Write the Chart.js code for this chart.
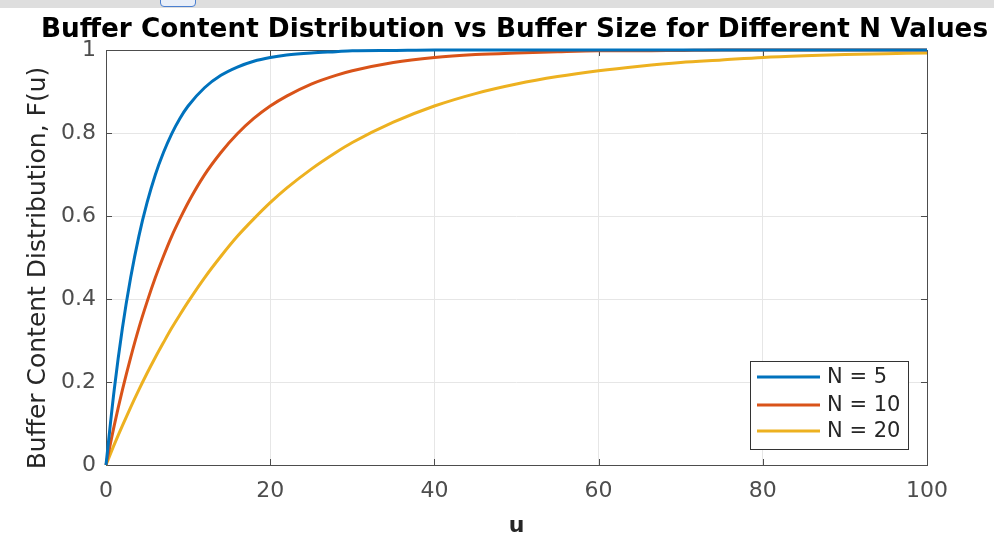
<!DOCTYPE html>
<html>
<head>
<meta charset="utf-8">
<script src="https://cdn.jsdelivr.net/npm/chart.js@4.4.1/dist/chart.umd.min.js"></script>
<style>
  body { margin: 0; background: #fff; }
  #wrap { position: relative; width: 994px; height: 534px; }
  #topbar { position: absolute; left: 0; top: 0; width: 994px; height: 8px; background: #dedede; }
  #tab { position: absolute; left: 160px; top: -6px; width: 34px; height: 11px; border: 1.5px solid #4a7fd0; border-radius: 4px; background: #e8eef8; }
</style>
</head>
<body>
<div id="wrap">
  <canvas id="chart" width="994" height="534"></canvas>
  <div id="topbar"><div id="tab"></div></div>
</div>
<script>
// values
const uValues = [0, 1, 2, 3, 4, 5, 6, 7, 8, 9, 10, 12, 14, 16, 18, 20, 22, 25, 28, 30, 35, 40, 45, 50, 55, 60, 65, 70, 75, 80, 85, 90, 95, 100];
const fN5  = [0, 0.181, 0.330, 0.451, 0.551, 0.632, 0.699, 0.753, 0.798, 0.835, 0.865, 0.909, 0.939, 0.959, 0.973, 0.982, 0.988, 0.993, 0.996, 0.998, 0.999, 1, 1, 1, 1, 1, 1, 1, 1, 1, 1, 1, 1, 1];
const fN10 = [0, 0.095, 0.181, 0.259, 0.330, 0.393, 0.451, 0.503, 0.551, 0.593, 0.632, 0.699, 0.753, 0.798, 0.835, 0.865, 0.889, 0.918, 0.939, 0.950, 0.970, 0.982, 0.989, 0.993, 0.996, 0.998, 0.998, 0.999, 1, 1, 1, 1, 1, 1];
const fN20 = [0, 0.049, 0.095, 0.139, 0.181, 0.221, 0.259, 0.295, 0.330, 0.362, 0.393, 0.451, 0.503, 0.551, 0.593, 0.632, 0.667, 0.713, 0.753, 0.777, 0.826, 0.865, 0.895, 0.918, 0.936, 0.950, 0.961, 0.970, 0.976, 0.982, 0.986, 0.989, 0.991, 0.993];
const seriesNames = ['N = 5', 'N = 10', 'N = 20'];
const seriesColors = ['#0072BD', '#D95319', '#EDB120'];
const xTicks = [0, 20, 40, 60, 80, 100];
const yTicks = [0, 0.2, 0.4, 0.6, 0.8, 1];
const chartTitle = 'Buffer Content Distribution vs Buffer Size for Different N Values';
const yLabel = 'Buffer Content Distribution, F(u)';

const FONT = 'DejaVu Sans';
const AXIS_COLOR = '#4d4d4d';
const TEXT_COLOR = '#4d4d4d';

const toPoints = (ys) => uValues.map((u, i) => ({ x: u, y: ys[i] }));

// matlab style box, inward ticks, title, y label, legend
const boxPlugin = {
  id: 'boxPlugin',
  beforeDatasetsDraw(chart) {
    const { ctx, chartArea: a, scales: { x, y } } = chart;
    ctx.save();
    ctx.strokeStyle = AXIS_COLOR;
    ctx.lineWidth = 1;
    ctx.strokeRect(a.left + 0.5, a.top + 0.5, a.right - a.left, a.bottom - a.top);
    ctx.beginPath();
    const tl = 6;
    xTicks.forEach((t) => {
      const px = Math.round(x.getPixelForValue(t)) + 0.5;
      ctx.moveTo(px, a.bottom); ctx.lineTo(px, a.bottom - tl);
      ctx.moveTo(px, a.top); ctx.lineTo(px, a.top + tl);
    });
    yTicks.forEach((t) => {
      const py = Math.round(y.getPixelForValue(t)) + 0.5;
      ctx.moveTo(a.left, py); ctx.lineTo(a.left + tl, py);
      ctx.moveTo(a.right, py); ctx.lineTo(a.right - tl, py);
    });
    ctx.stroke();
    ctx.restore();
  },
  afterDraw(chart) {
    const { ctx, chartArea: a } = chart;
    ctx.save();
    // title
    ctx.fillStyle = '#000';
    ctx.font = 'bold 26.3px ' + FONT;
    ctx.textAlign = 'center';
    ctx.textBaseline = 'alphabetic';
    ctx.fillText(chartTitle, (a.left + a.right) / 2 - 2, 37);
    // y label
    ctx.save();
    ctx.translate(38, 268);
    ctx.rotate(-Math.PI / 2);
    ctx.fillStyle = '#262626';
    ctx.font = '25px ' + FONT;
    ctx.textBaseline = 'middle';
    ctx.fillText(yLabel, 0, 0);
    ctx.restore();
    // legend
    ctx.textAlign = 'left';
    ctx.fillStyle = '#fff';
    ctx.strokeStyle = '#333';
    ctx.lineWidth = 1;
    ctx.fillRect(750, 361, 158, 88);
    ctx.strokeRect(750.5, 361.5, 158, 88);
    ctx.font = '21px ' + FONT;
    ctx.textBaseline = 'middle';
    const rows = [377, 405, 431];
    seriesNames.forEach((name, i) => {
      ctx.strokeStyle = seriesColors[i];
      ctx.lineWidth = 3;
      ctx.beginPath();
      ctx.moveTo(757, rows[i]);
      ctx.lineTo(820, rows[i]);
      ctx.stroke();
      ctx.fillStyle = '#262626';
      ctx.fillText(name, 827, rows[i] + 1);
    });
    ctx.restore();
  }
};

new Chart(document.getElementById('chart'), {
  type: 'line',
  data: {
    datasets: [fN5, fN10, fN20].map((ys, i) => ({
      label: seriesNames[i],
      data: toPoints(ys),
      borderColor: seriesColors[i],
      backgroundColor: seriesColors[i],
      borderWidth: 3,
      pointRadius: 0,
      cubicInterpolationMode: 'monotone',
      clip: 4,
    })),
  },
  options: {
    responsive: false,
    animation: false,
    layout: { padding: { left: 0, right: 67, top: 50, bottom: 0 } },
    plugins: {
      legend: { display: false },
      tooltip: { enabled: false },
      title: { display: false },
    },
    scales: {
      x: {
        type: 'linear',
        min: 0,
        max: 100,
        afterFit: (s) => { s.height = 69; },
        afterBuildTicks: (s) => { s.ticks = xTicks.map((v) => ({ value: v })); },
        grid: { color: '#e6e6e6', drawTicks: false },
        border: { display: false },
        ticks: { color: TEXT_COLOR, padding: 13, font: { family: FONT, size: 22 } },
        title: {
          display: true, text: 'u', color: '#262626',
          font: { family: FONT, size: 22, weight: 'bold' },
          padding: { top: 0, bottom: -5 },
        },
      },
      y: {
        type: 'linear',
        min: 0,
        max: 1,
        afterFit: (s) => { s.width = 106; },
        afterBuildTicks: (s) => { s.ticks = yTicks.map((v) => ({ value: v })); },
        grid: { color: '#e6e6e6', drawTicks: false },
        border: { display: false },
        ticks: {
          color: TEXT_COLOR, padding: 10, font: { family: FONT, size: 22 },
          callback: (v) => String(Number(v.toFixed(1))),
        },
      },
    },
  },
  plugins: [boxPlugin],
});
</script>
</body>
</html>
